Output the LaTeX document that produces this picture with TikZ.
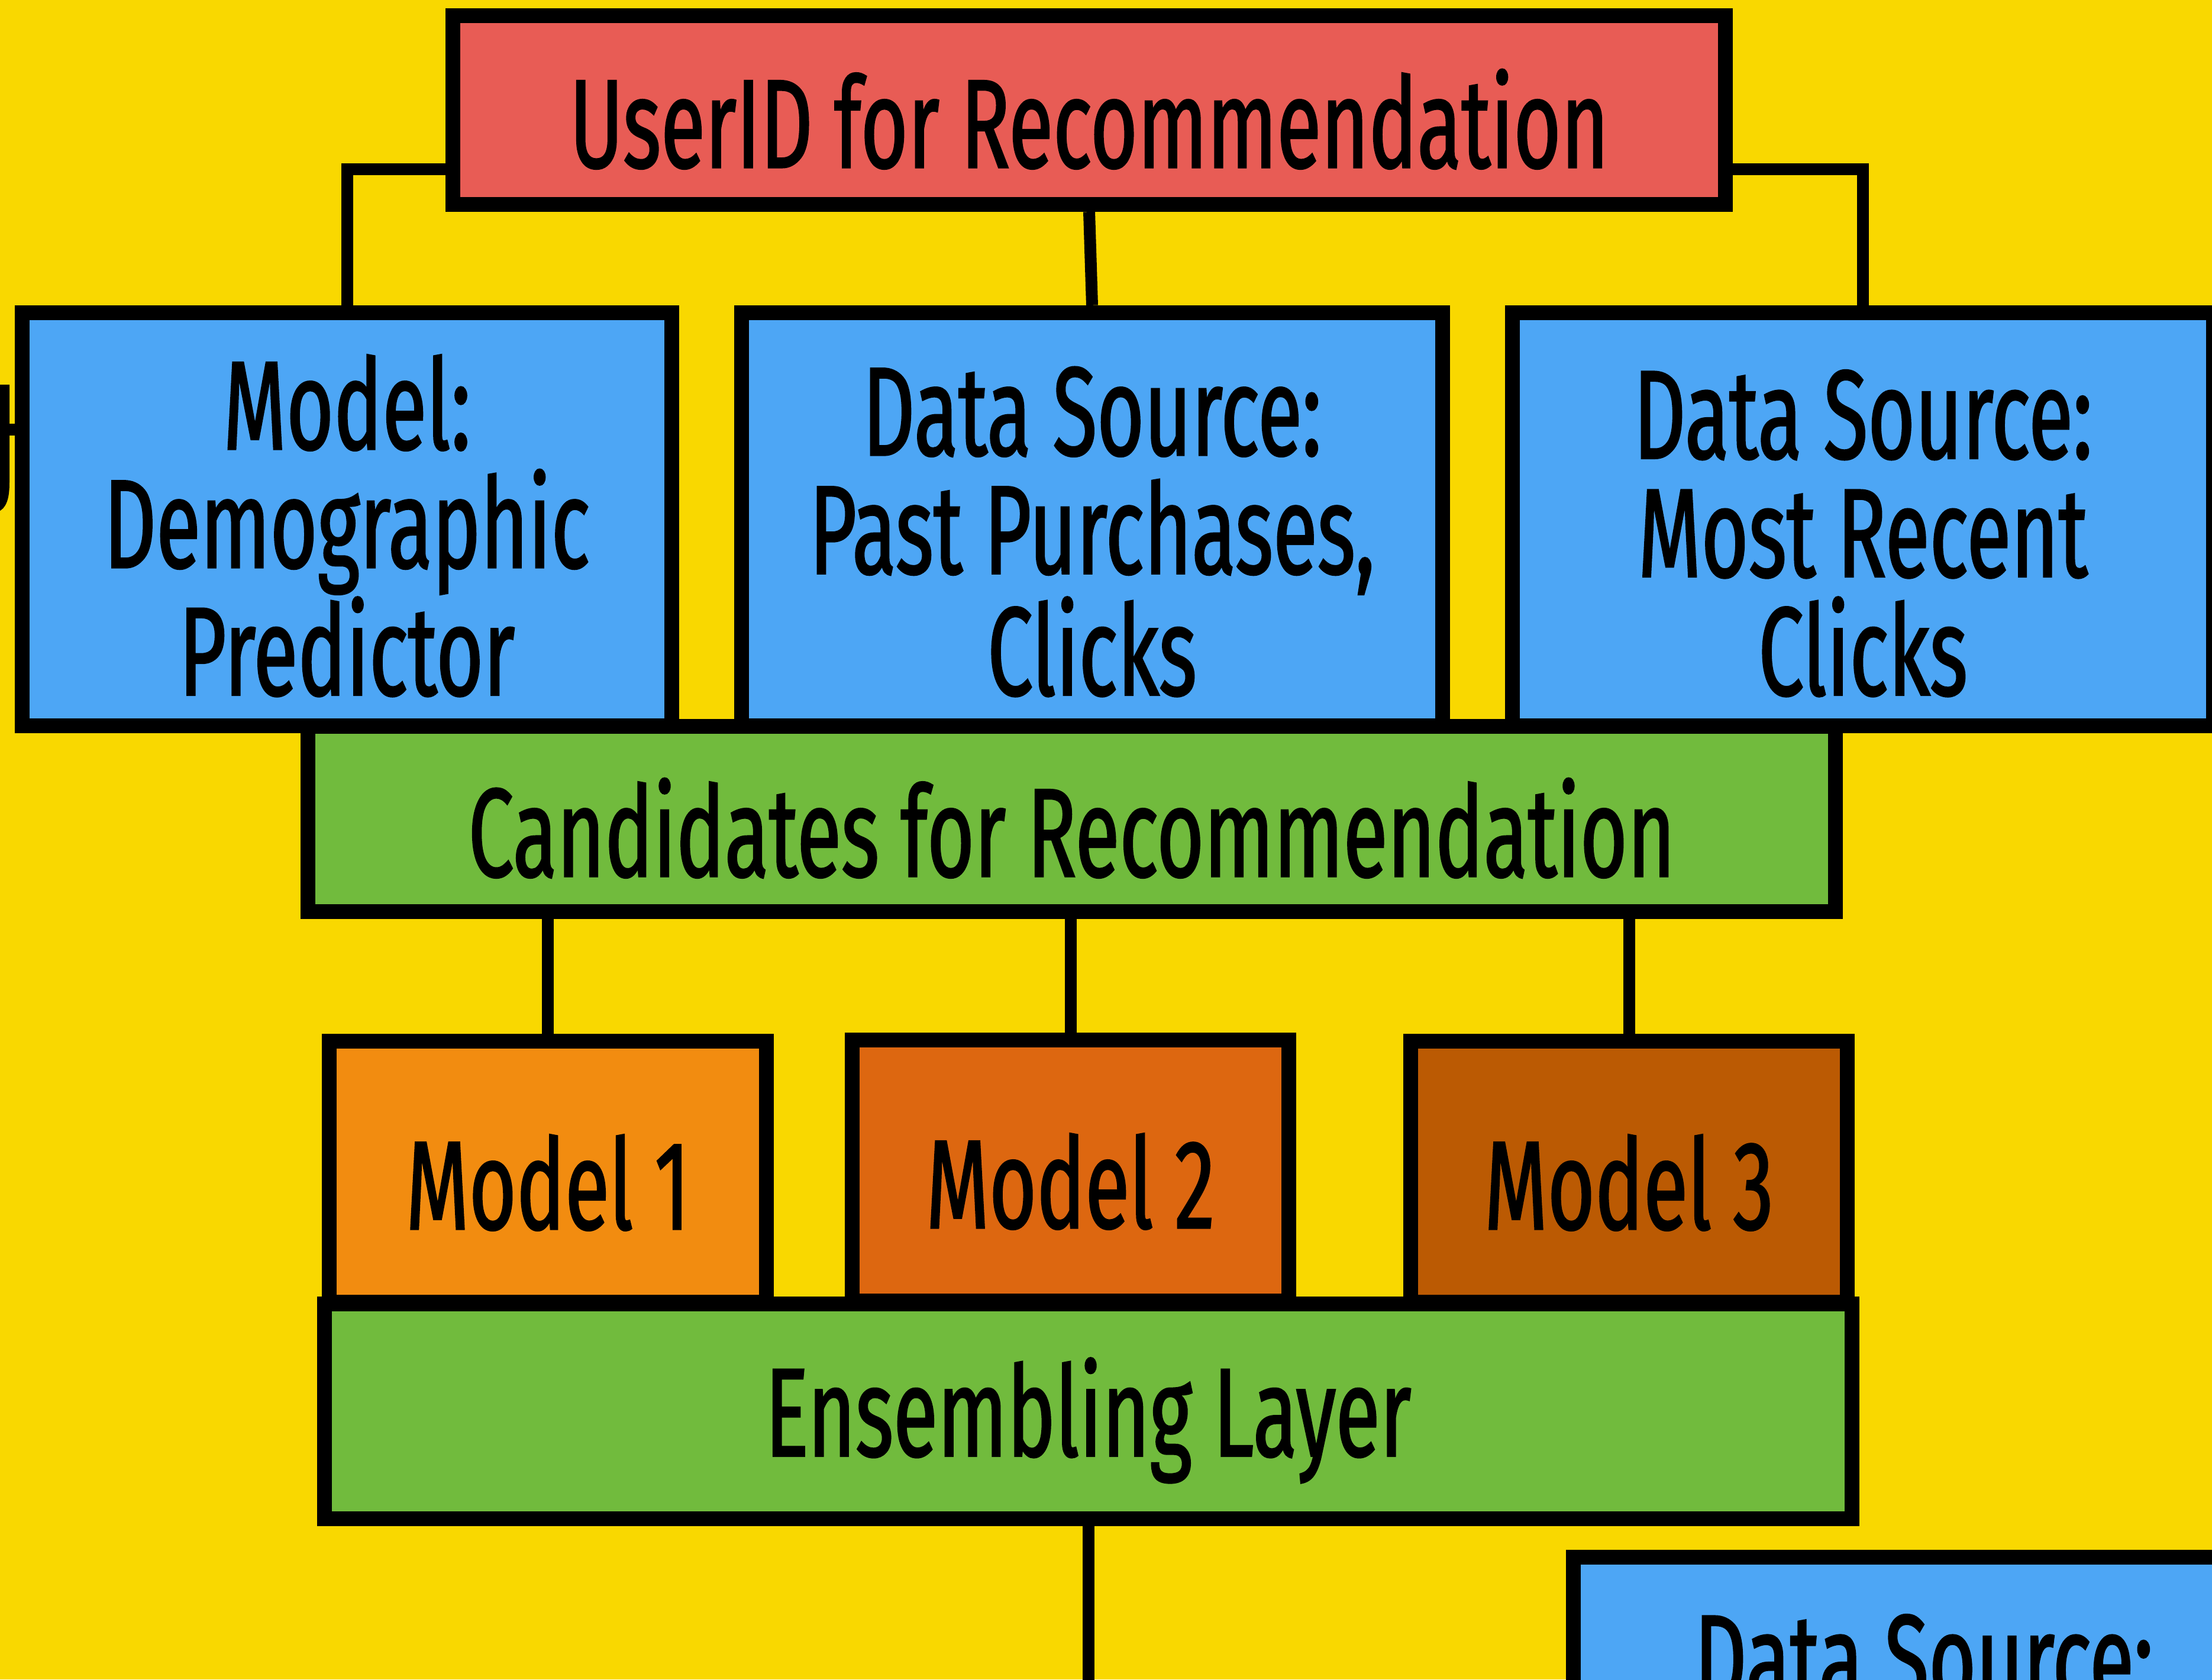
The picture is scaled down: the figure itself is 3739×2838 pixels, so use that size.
\documentclass[tikz,border=0pt]{standalone}
\usepackage{fontspec}
\setmainfont{Fira Sans}[FakeStretch=0.643, FakeBold=1.2]
\usetikzlibrary{positioning}
\definecolor{bgyellow}{HTML}{F9D800}
\definecolor{userred}{HTML}{E85C55}
\definecolor{srcblue}{HTML}{4DA6F5}
\definecolor{layergreen}{HTML}{71BB3D}
\definecolor{modelA}{HTML}{F28C10}
\definecolor{modelB}{HTML}{DD6710}
\definecolor{modelC}{HTML}{BB5A03}
\tikzset{
  box/.style={draw=black, line width=0.25cm, inner sep=0pt, align=center,
    font=\fontsize{60.7pt}{56.9pt}\selectfont,
    execute at begin node={\rule{0pt}{1.97cm}}},
  srcbox/.style={box, fill=srcblue, minimum width=11.85cm, minimum height=6.98cm,
    execute at begin node={\rule{0pt}{5.97cm}}},
  layerbox/.style={box, fill=layergreen, minimum width=25.8cm},
  modelbox/.style={box, minimum width=7.38cm, minimum height=4.4cm},
  link/.style={draw=black, line width=0.2cm},
}

\begin{document}
\begin{tikzpicture}[x=0.01cm, y=-0.01cm]
\useasboundingbox (0,0) rectangle (3739,2838);
\clip (0,0) rectangle (3739,2838);
\fill[bgyellow] (0,0) rectangle (3739,2838);

% sources row
\node[srcbox, minimum width=10.98cm] (demo) at (586.5,877.5) {Model:\\Demographic\\Predictor};
\node[srcbox] (past) at (1846,877.5) {Data Source:\\Past Purchases,\\Clicks};
\node[srcbox] (recent) at (3149,877.5) {Data Source:\\Most Recent\\Clicks};
\node[srcbox] (next) at (3252,2980.5) {Data Source:\\\phantom{Most Recent}\\\phantom{Clicks}};

\node[layerbox, minimum height=3.13cm] (cand) at (1811.5,1384) {Candidates for Recommendation};

% models
\node[modelbox, fill=modelA] (m1) at (926,1980) {Model 1};
\node[modelbox, fill=modelB] (m2) at (1809.5,1978) {Model 2};
\node[modelbox, fill=modelC] (m3) at (2753.5,1980) {Model 3};

\node[layerbox, minimum height=3.63cm] (ens) at (1839.5,2385) {Ensembling Layer};

\node[box, fill=userred, minimum width=21.5cm, minimum height=3.19cm] (user) at (1841,186) {UserID for Recommendation};

% connectors
\draw[link] ([yshift=-1cm]user.west) -| (demo.north);
\draw[link] ([yshift=-1cm]user.east) -| (recent.north);
\draw[link] (user.south) -- (past.north);
\foreach \m in {m1,m2,m3}
  \draw[link] (\m.north) -- (\m.north |- cand.south);
\coordinate (out) at (1839.5,2900);
\draw[link] (ens.south) -- (out);
\coordinate (leftin) at (-50,726);
\draw[link] (leftin) -- (leftin -| demo.west);
\draw[line width=0.16cm] (8,650) -- (8,815) .. controls (8,850) and (0,860) .. (-20,860);
\end{tikzpicture}
\end{document}
